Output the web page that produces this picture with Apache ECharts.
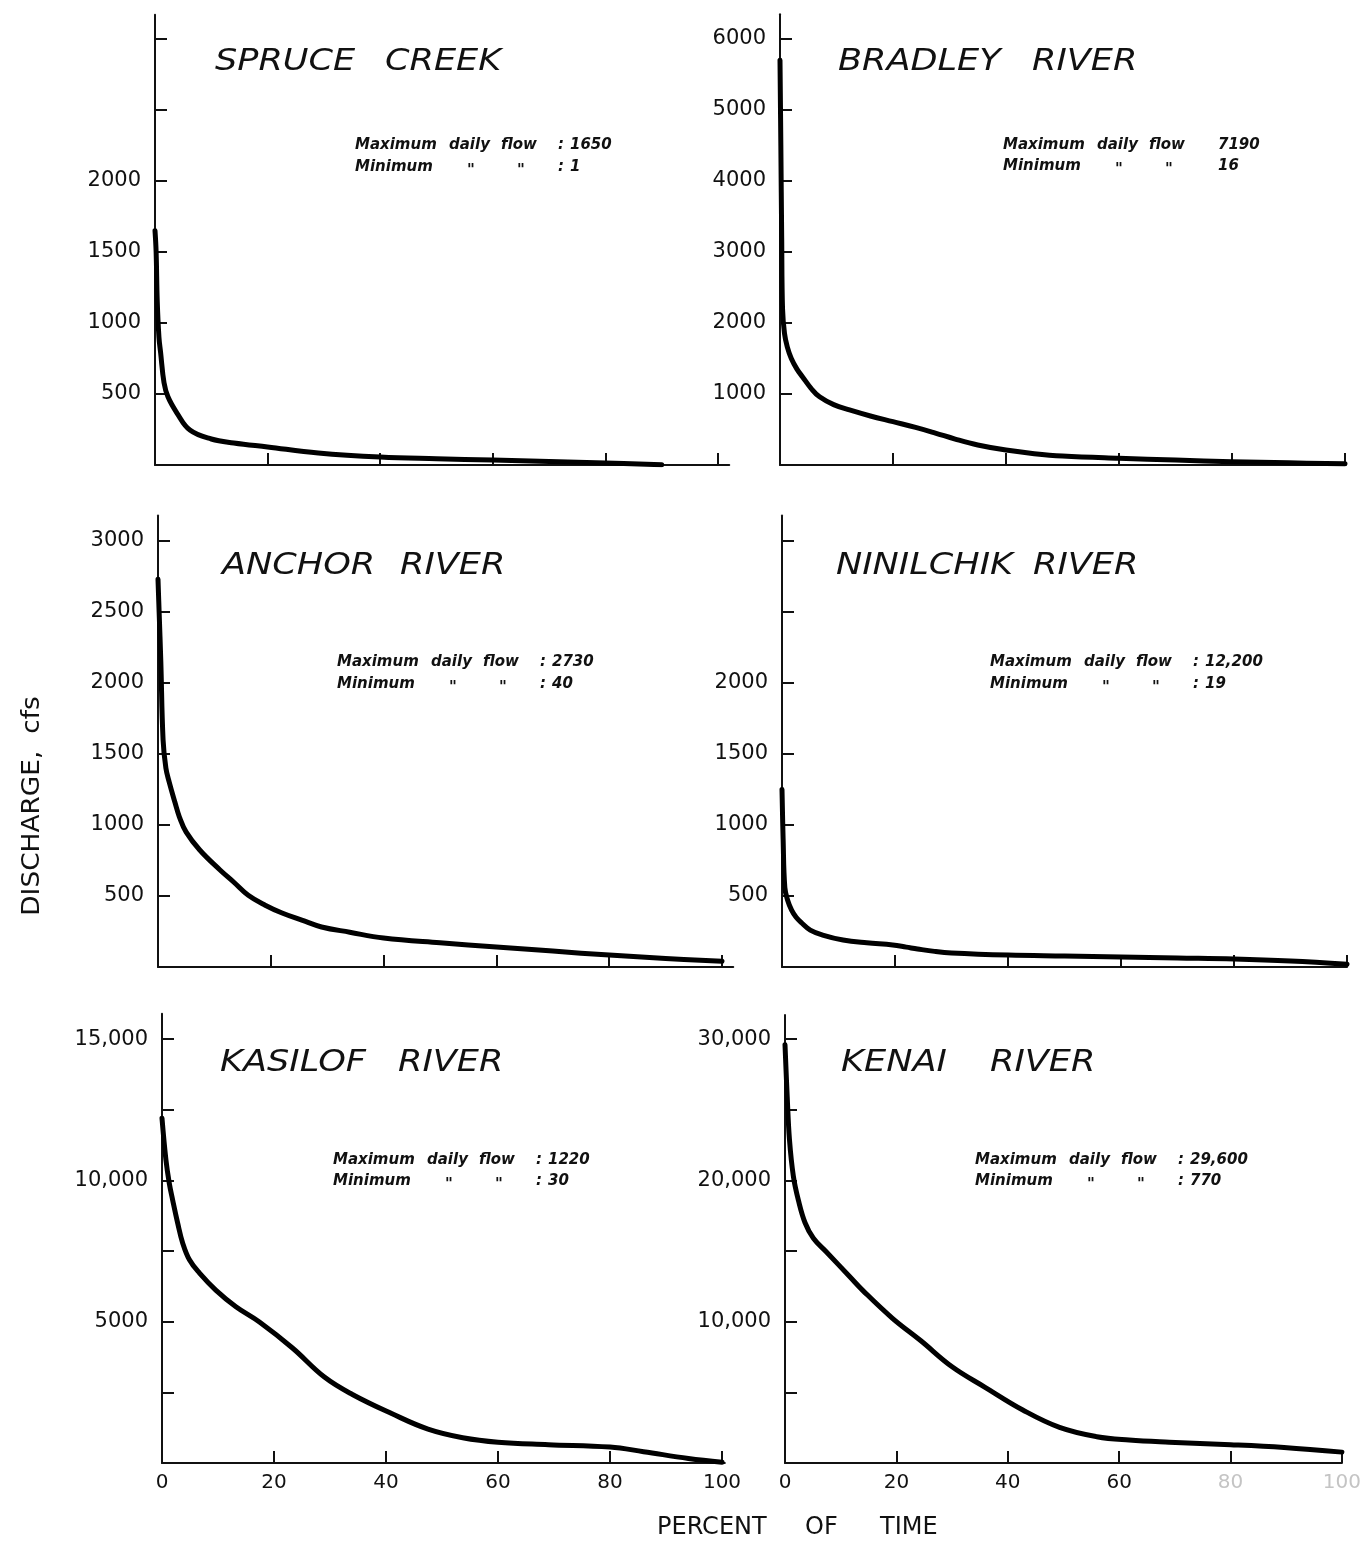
<!DOCTYPE html>
<html>
<head>
<meta charset="utf-8">
<script src="https://cdn.jsdelivr.net/npm/echarts@6/dist/echarts.min.js"></script>
<style>
  html, body { margin: 0; padding: 0; background: #fff; }
  #chart { width: 1364px; height: 1543px; }
</style>
</head>
<body>
<div id="chart"></div>
<script>
// Flow-duration curves for six streams: discharge (cfs) exceeded a given percent of time.

const rivers = ['SPRUCE CREEK', 'BRADLEY RIVER', 'ANCHOR RIVER', 'NINILCHIK RIVER', 'KASILOF RIVER', 'KENAI RIVER'];
const maxDailyFlow = ['1650', '7190', '2730', '12,200', '1220', '29,600'];
const minDailyFlow = ['1', '16', '40', '19', '30', '770'];

const spruceTime = [0, 0.2, 0.4, 0.7, 1.0, 1.6, 2.3, 3.9, 6.2, 10, 14, 20, 29, 40, 50, 60, 70, 80, 90];
const spruceFlow = [1650, 1500, 1150, 900, 790, 580, 480, 366, 246, 183, 155, 127, 85, 56, 44, 35, 24, 14, 1];

const bradleyTime = [0, 0.15, 0.3, 0.45, 0.8, 1.3, 2, 3, 4, 5.5, 7, 9.5, 12.3, 16, 20, 24, 27.5, 31, 35, 40, 45, 50, 60, 70, 80, 90, 100];
const bradleyFlow = [5700, 4500, 3200, 2200, 1850, 1660, 1500, 1350, 1240, 1080, 960, 850, 775, 690, 610, 530, 450, 365, 282, 210, 160, 127, 95, 70, 47, 30, 16];

const anchorTime = [0, 0.2, 0.5, 0.9, 1.4, 2, 3, 3.8, 5, 7.4, 11, 13.5, 16, 19, 22, 25.5, 29, 34, 40, 50, 60, 70, 80, 90, 100];
const anchorFlow = [2730, 2500, 2150, 1600, 1400, 1300, 1160, 1056, 950, 824, 683, 595, 505, 435, 380, 330, 282, 245, 204, 170, 141, 112, 84, 60, 40];

const ninilchikTime = [0, 0.2, 0.5, 1, 1.7, 2.5, 3.5, 5, 7.2, 10.8, 15, 19.6, 22, 24, 27, 30, 40, 50, 60, 70, 80, 90, 100];
const ninilchikFlow = [1250, 900, 560, 470, 400, 350, 310, 260, 225, 190, 170, 155, 140, 127, 110, 99, 84, 77, 70, 63, 56, 42, 19];

const kasilofTime = [0, 0.7, 1.3, 1.9, 2.8, 3.7, 4.9, 6.7, 9.6, 13.2, 17.4, 23.3, 29, 34, 41, 47.5, 53.7, 60, 69, 80, 86, 94, 100];
const kasilofFlow = [12200, 10730, 9900, 9310, 8490, 7780, 7190, 6720, 6120, 5530, 4990, 4070, 3040, 2425, 1750, 1200, 895, 735, 650, 565, 400, 160, 30];

const kenaiTime = [0, 0.4, 0.8, 1.5, 2.4, 3.6, 5.1, 7.4, 11.6, 14, 19.3, 24.4, 30, 36, 42.7, 49.3, 56, 61.8, 69, 80, 89.6, 100];
const kenaiFlow = [29600, 25900, 22900, 20300, 18600, 17000, 15900, 14950, 13200, 12200, 10240, 8650, 6810, 5340, 3750, 2520, 1860, 1620, 1470, 1300, 1100, 770];

// tick marks and tick labels
const percentTicks = [20, 40, 60, 80, 100];
const percentLabels = [0, 20, 40, 60, 80, 100];
const spruceTicks = [500, 1000, 1500, 2000, 2500, 3000];
const spruceLabels = [500, 1000, 1500, 2000];
const bradleyTicks = [1000, 2000, 3000, 4000, 5000, 6000];
const bradleyLabels = [1000, 2000, 3000, 4000, 5000, 6000];
const anchorTicks = [500, 1000, 1500, 2000, 2500, 3000];
const anchorLabels = [500, 1000, 1500, 2000, 2500, 3000];
const ninilchikTicks = [500, 1000, 1500, 2000, 2500, 3000];
const ninilchikLabels = [500, 1000, 1500, 2000];
const kasilofTicks = [2500, 5000, 7500, 10000, 12500, 15000];
const kasilofLabels = [5000, 10000, 15000];
const kenaiTicks = [5000, 10000, 15000, 20000, 25000, 30000];
const kenaiLabels = [10000, 20000, 30000];

const seriesTime = [spruceTime, bradleyTime, anchorTime, ninilchikTime, kasilofTime, kenaiTime];
const seriesFlow = [spruceFlow, bradleyFlow, anchorFlow, ninilchikFlow, kasilofFlow, kenaiFlow];
const yTicks = [spruceTicks, bradleyTicks, anchorTicks, ninilchikTicks, kasilofTicks, kenaiTicks];
const yLabels = [spruceLabels, bradleyLabels, anchorLabels, ninilchikLabels, kasilofLabels, kenaiLabels];

// page layout of each panel: pixel of 0 % (x0) and 100 % (x1), baseline pixel, pixels per cfs, axis extents
const panels = [
  { x0: 155, x1: 718, base: 465, ppu: 71 / 500, yMax: 3170, xMax: 102, bottom: false },
  { x0: 780, x1: 1345, base: 465, ppu: 71 / 1000, yMax: 6350, xMax: 100, bottom: false },
  { x0: 158, x1: 722, base: 967, ppu: 71 / 500, yMax: 3180, xMax: 102, bottom: false },
  { x0: 782, x1: 1347, base: 967, ppu: 71 / 500, yMax: 3180, xMax: 100, bottom: false },
  { x0: 162, x1: 722, base: 1463, ppu: 141.3 / 5000, yMax: 15900, xMax: 100.5, bottom: true },
  { x0: 785, x1: 1345, base: 1463, ppu: 141.3 / 10000, yMax: 31700, xMax: 100, bottom: true }
];

// title word positions and annotation anchors
const titleLayout = [
  { y: 62, xs: [215, 385] },
  { y: 62, xs: [838, 1032] },
  { y: 566, xs: [222, 400] },
  { y: 566, xs: [836, 1033] },
  { y: 1063, xs: [220, 398] },
  { y: 1063, xs: [841, 990] }
];
const noteLayout = [
  { x: 355, y1: 145, y2: 167, colon: true },
  { x: 1003, y1: 145, y2: 166, colon: false },
  { x: 337, y1: 662, y2: 684, colon: true },
  { x: 990, y1: 662, y2: 684, colon: true },
  { x: 333, y1: 1160, y2: 1181, colon: true },
  { x: 975, y1: 1160, y2: 1181, colon: true }
];

const FONT = 'DejaVu Sans';
const INK = '#111';

function fmtFlow(v) {
  return v >= 10000 ? v.toLocaleString('en-US') : String(v);
}

const grids = [], xAxes = [], yAxes = [], series = [], graphics = [];

panels.forEach((p, i) => {
  const w = (p.x1 - p.x0) * p.xMax / 100;
  const h = p.yMax * p.ppu;
  grids.push({ left: p.x0, top: p.base - h, width: w, height: h, containLabel: false });

  xAxes.push({
    type: 'value', gridIndex: i, min: 0, max: p.xMax,
    axisLine: { show: true, onZero: false, lineStyle: { color: INK, width: 2 } },
    axisTick: { show: true, inside: true, length: 12, customValues: percentTicks, lineStyle: { color: INK, width: 2 } },
    axisLabel: {
      show: p.bottom, customValues: percentLabels, margin: 10,
      fontFamily: FONT, fontSize: 20,
      color: i === 5 ? (v) => (v >= 80 ? '#c4c4c4' : '#111') : '#111'
    },
    splitLine: { show: false }
  });

  yAxes.push({
    type: 'value', gridIndex: i, min: 0, max: p.yMax,
    axisLine: { show: true, onZero: false, lineStyle: { color: INK, width: 2 } },
    axisTick: { show: true, inside: true, length: 12, customValues: yTicks[i], lineStyle: { color: INK, width: 2 } },
    axisLabel: {
      show: true, customValues: yLabels[i], margin: 14,
      fontFamily: FONT, fontSize: 21, color: '#111',
      formatter: (v) => fmtFlow(v)
    },
    splitLine: { show: false }
  });

  series.push({
    type: 'line', xAxisIndex: i, yAxisIndex: i,
    data: seriesTime[i].map((t, k) => [t, seriesFlow[i][k]]),
    showSymbol: false, symbol: 'none',
    smooth: 0.4,
    lineStyle: { color: '#000', width: 5, cap: 'round', join: 'round' },
    silent: true, animation: false
  });

  // panel title, one word at a time
  const words = rivers[i].split(' ');
  words.forEach((wd, k) => {
    graphics.push({
      type: 'text', x: titleLayout[i].xs[k], y: titleLayout[i].y, scaleX: 1.17,
      style: {
        text: wd, fill: INK, fontFamily: FONT, fontSize: 30, fontStyle: 'italic',
        textAlign: 'left', textVerticalAlign: 'middle'
      }
    });
  });

  // maximum / minimum daily flow note
  const n = noteLayout[i];
  const noteStyle = { fill: INK, fontFamily: FONT, fontSize: 15, fontStyle: 'italic', fontWeight: 'bold', textAlign: 'left', textVerticalAlign: 'middle' };
  const row1 = [['Maximum', 0], ['daily', 94], ['flow', 146], ['', 0], [maxDailyFlow[i], 215]];
  const row2 = [['Minimum', 0], ['"', 112], ['"', 162], ['', 0], [minDailyFlow[i], 215]];
  if (n.colon) { row1[3] = [':', 203]; row2[3] = [':', 203]; }
  row1.forEach(([t, dx]) => { if (t) graphics.push({ type: 'text', x: n.x + dx, y: n.y1, style: Object.assign({ text: t }, noteStyle) }); });
  row2.forEach(([t, dx]) => { if (t) graphics.push({ type: 'text', x: n.x + dx, y: n.y2 + (t === '"' ? 4 : 0), style: Object.assign({ text: t }, noteStyle) }); });
});

// shared axis names
graphics.push({
  type: 'text', x: 33, y: 806, rotation: Math.PI / 2, scaleX: 1.1,
  style: { text: 'DISCHARGE,  cfs', fill: INK, fontFamily: FONT, fontSize: 24, textAlign: 'center', textVerticalAlign: 'middle' }
});
[['PERCENT', 657], ['OF', 805], ['TIME', 880]].forEach(([t, x]) => {
  graphics.push({
    type: 'text', x: x, y: 1528,
    style: { text: t, fill: INK, fontFamily: FONT, fontSize: 24, textAlign: 'left', textVerticalAlign: 'middle' }
  });
});

const chart = echarts.init(document.getElementById('chart'), null, { renderer: 'canvas' });
chart.setOption({
  backgroundColor: '#fff',
  animation: false,
  grid: grids,
  xAxis: xAxes,
  yAxis: yAxes,
  series: series,
  graphic: graphics
});
</script>
</body>
</html>
